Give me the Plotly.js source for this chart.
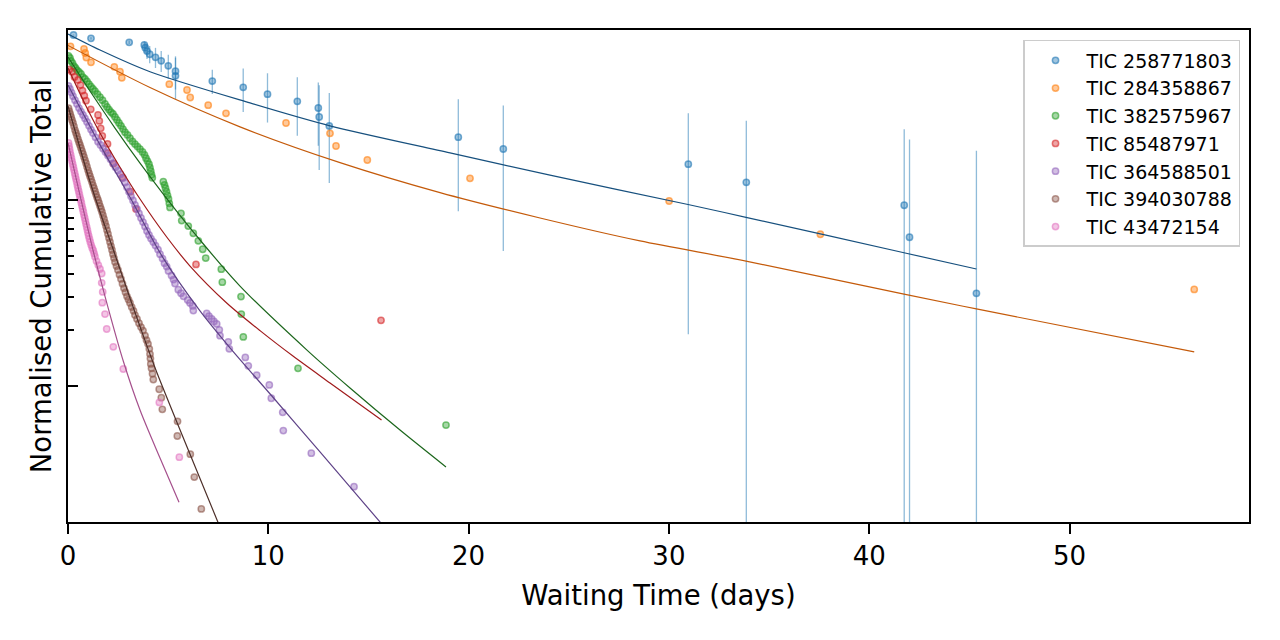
<!DOCTYPE html>
<html>
<head>
<meta charset="utf-8">
<script src="https://cdn.plot.ly/plotly-3.0.1.min.js"></script>
<style>
  body { margin: 0; background: #fff; }
  #graph { width: 1280px; height: 640px; }
</style>
</head>
<body>
<div id="graph"></div>
<script>
// waiting time (days) vs normalised cumulative total
const names = ["TIC 258771803", "TIC 284358867", "TIC 382575967", "TIC 85487971",
  "TIC 364588501", "TIC 394030788", "TIC 43472154"];

const blueX = [0.275, 1.148, 3.055, 3.809, 3.859, 3.944, 4.079, 4.368, 4.653, 5.007, 5.367, 5.367, 7.204,
  8.747, 9.960, 11.448, 12.496, 12.541, 13.045, 19.486, 21.732, 30.968, 33.864, 41.747, 42.012, 45.352];
const blueY = [0.7735, 0.7426, 0.7067, 0.684, 0.6614, 0.634, 0.6093, 0.5867, 0.5619, 0.528, 0.4939, 0.4665,
  0.4372, 0.4044, 0.3713, 0.3401, 0.3129, 0.2799, 0.2503, 0.2179, 0.1882, 0.1559, 0.1245, 0.0937, 0.063, 0.03145];
const blueErr = [0.005, 0.01, 0.015, 0.03, 0.045, 0.06, 0.065, 0.073, 0.073, 0.078, 0.1, 0.117, 0.065,
  0.107, 0.11, 0.118, 0.117, 0.135, 0.127, 0.131, 0.135, 0.137, 0.143, 0.147, 0.149, 0.153];

const orangeX = [0.125, 0.799, 0.859, 0.914, 1.148, 2.312, 2.596, 2.686, 5.057, 5.941, 6.101, 6.999, 7.888,
  10.884, 13.08, 13.38, 14.943, 20.07, 30.01, 37.56, 56.225];
const orangeY = [0.6726, 0.6503, 0.619, 0.5853, 0.5513, 0.5215, 0.491, 0.455, 0.4203, 0.3913, 0.3565, 0.324,
  0.293, 0.2598, 0.2286, 0.1953, 0.1642, 0.1309, 0.0988, 0.0654, 0.033];

const greenX = [0.025, 0.1, 0.15, 0.225, 0.3, 0.374, 0.449, 0.549, 0.649, 0.749, 0.849, 0.949, 1.049, 1.149,
  1.248, 1.348, 1.473, 1.598, 1.723, 1.847, 1.947, 2.047, 2.147, 2.247, 2.347, 2.446, 2.546, 2.646, 2.746,
  2.846, 2.971, 3.095, 3.22, 3.345, 3.47, 3.595, 3.72, 3.819, 3.894, 3.969, 4.044, 4.094, 4.134, 4.169, 4.209,
  4.758, 4.818, 4.868, 4.918, 4.968, 5.018, 5.058, 5.092, 5.642, 5.677, 6.006, 6.256, 6.506, 6.725, 6.875,
  7.654, 7.704, 8.637, 8.652, 8.752, 11.483, 18.871];
const greenY = [0.597, 0.582, 0.561, 0.546, 0.526, 0.514, 0.501, 0.489, 0.477, 0.459, 0.449, 0.435, 0.421,
  0.408, 0.396, 0.386, 0.372, 0.358, 0.345, 0.329, 0.317, 0.307, 0.2975, 0.2906, 0.28, 0.27, 0.26, 0.251,
  0.241, 0.232, 0.224, 0.215, 0.207, 0.2, 0.194, 0.188, 0.1815, 0.175, 0.168, 0.162, 0.156, 0.1493, 0.1432,
  0.1368, 0.1318, 0.1254, 0.1207, 0.1158, 0.111, 0.106, 0.1013, 0.096, 0.0912, 0.0848, 0.0775, 0.0724,
  0.0662, 0.0603, 0.0543, 0.0487, 0.0424, 0.0361, 0.0302, 0.0243, 0.0183, 0.0124, 0.00614];

const redX = [0.065, 0.2, 0.325, 0.499, 0.624, 0.724, 0.814, 0.899, 1.138, 1.498, 1.563, 1.633, 1.712,
  1.973, 1.982, 2.272, 2.721, 3.12, 3.395, 6.39, 15.627];
const redY = [0.504, 0.4905, 0.4595, 0.443, 0.416, 0.3886, 0.3648, 0.3429, 0.308, 0.287, 0.2667, 0.2431,
  0.2212, 0.2005, 0.1788, 0.1569, 0.1322, 0.1109, 0.0895, 0.045, 0.0225];

const purpleX = [0.025, 0.1, 0.175, 0.25, 0.35, 0.449, 0.549, 0.649, 0.749, 0.849, 0.949, 1.049, 1.148,
  1.248, 1.373, 1.498, 1.623, 1.747, 1.872, 1.997, 2.122, 2.247, 2.372, 2.496, 2.621, 2.746, 2.846, 2.946,
  3.046, 3.146, 3.245, 3.345, 3.445, 3.545, 3.645, 3.745, 3.845, 3.944, 4.044, 4.144, 4.259, 4.369, 4.494,
  4.594, 4.719, 4.818, 4.928, 5.018, 5.168, 5.268, 5.342, 5.507, 5.642, 5.767, 5.977, 6.091, 6.226, 6.256,
  6.925, 7.04, 7.174, 7.289, 7.424, 7.554, 7.589, 8.003, 8.053, 8.852, 9.002, 9.421, 10.05, 10.15, 10.719,
  10.749, 12.147, 14.279];
const purpleY = [0.411, 0.396, 0.379, 0.3625, 0.345, 0.329, 0.3127, 0.2995, 0.287, 0.2751, 0.2634, 0.2509,
  0.2395, 0.2295, 0.2176, 0.2062, 0.198, 0.1894, 0.1815, 0.1739, 0.166, 0.1579, 0.1502, 0.1441, 0.1377,
  0.1312, 0.1241, 0.1171, 0.1109, 0.1047, 0.0994, 0.094, 0.0895, 0.0846, 0.08, 0.0761, 0.072, 0.0681,
  0.0648, 0.062, 0.0594, 0.0568, 0.0541, 0.0511, 0.0484, 0.0457, 0.0438, 0.0415, 0.0392, 0.0373, 0.0355,
  0.0329, 0.0315, 0.0303, 0.0289, 0.0279, 0.0269, 0.0254, 0.0245, 0.0237, 0.0229, 0.0222, 0.0215, 0.02,
  0.0186, 0.0172, 0.0158, 0.0142, 0.0128, 0.0114, 0.0101, 0.00856, 0.00719, 0.00573, 0.00433, 0.00286];

const brownX = [0.025, 0.065, 0.11, 0.155, 0.2, 0.25, 0.3, 0.35, 0.399, 0.449, 0.499, 0.549, 0.599, 0.649,
  0.699, 0.749, 0.799, 0.849, 0.899, 0.949, 0.999, 1.049, 1.098, 1.148, 1.198, 1.248, 1.298, 1.348, 1.398,
  1.448, 1.498, 1.548, 1.598, 1.648, 1.698, 1.748, 1.798, 1.847, 1.897, 1.947, 1.997, 2.047, 2.097, 2.147,
  2.197, 2.247, 2.297, 2.347, 2.422, 2.496, 2.571, 2.646, 2.721, 2.796, 2.871, 2.946, 3.021, 3.096, 3.181,
  3.27, 3.345, 3.445, 3.545, 3.645, 3.745, 3.845, 3.92, 3.994, 4.059, 4.094, 4.114, 4.134, 4.169, 4.219,
  4.259, 4.554, 4.659, 4.709, 5.468, 5.458, 6.106, 6.306, 6.655];
const brownY = [0.3127, 0.3013, 0.2906, 0.28, 0.27, 0.2604, 0.2494, 0.238, 0.2296, 0.2212, 0.2126, 0.2049,
  0.198, 0.1907, 0.1837, 0.1772, 0.1707, 0.164, 0.1579, 0.1512, 0.145, 0.1394, 0.1343, 0.1296, 0.1249, 0.12,
  0.1158, 0.1116, 0.1073, 0.1034, 0.1, 0.0964, 0.0928, 0.0895, 0.0862, 0.0825, 0.079, 0.0756, 0.0724,
  0.0689, 0.0656, 0.0624, 0.0594, 0.0565, 0.0538, 0.0511, 0.0487, 0.0463, 0.0441, 0.042, 0.0396, 0.0376,
  0.0354, 0.0335, 0.0319, 0.0303, 0.0291, 0.0279, 0.0265, 0.0253, 0.024, 0.0229, 0.0217, 0.0207, 0.0198,
  0.0186, 0.0176, 0.0168, 0.0158, 0.0148, 0.014, 0.0131, 0.0124, 0.0116, 0.0108, 0.00957, 0.00862, 0.00746,
  0.00643, 0.00536, 0.00428, 0.00322, 0.00217];

const pinkX = [0.025, 0.05, 0.075, 0.1, 0.135, 0.17, 0.2, 0.235, 0.27, 0.3, 0.335, 0.37, 0.4, 0.434, 0.469,
  0.499, 0.534, 0.569, 0.599, 0.634, 0.669, 0.699, 0.734, 0.769, 0.799, 0.834, 0.869, 0.899, 0.934, 0.969,
  0.999, 1.034, 1.073, 1.113, 1.158, 1.208, 1.263, 1.308, 1.348, 1.423, 1.513, 1.598, 1.683, 1.683, 1.733,
  1.713, 1.847, 1.932, 2.262, 2.761, 4.559, 5.558];
const pinkY = [0.203, 0.1955, 0.1883, 0.1814, 0.175, 0.1681, 0.162, 0.1559, 0.1502, 0.145, 0.1394, 0.1343,
  0.1296, 0.1249, 0.12, 0.1158, 0.1116, 0.1073, 0.1034, 0.1, 0.0964, 0.0928, 0.0895, 0.0862, 0.083, 0.08,
  0.077, 0.0742, 0.0715, 0.0689, 0.0664, 0.064, 0.0617, 0.0594, 0.0572, 0.0552, 0.0535, 0.0514, 0.0495,
  0.0469, 0.0446, 0.0425, 0.0402, 0.0358, 0.032, 0.028, 0.0243, 0.0202, 0.0162, 0.0123, 0.00813, 0.00412];

// fitted curves, sampled along the drawn lines
const fitBlueX = [0, 1.598, 4.094, 9.086, 13.08, 19.072, 24.064, 30.954, 33.849, 41.737, 45.352];
const fitBlueY = [0.7831, 0.642, 0.4905, 0.3332, 0.2509, 0.1794, 0.136, 0.0946, 0.0807, 0.052, 0.0425];
const fitOrangeX = [0, 4.094, 8.587, 13.58, 18.572, 23.565, 28.557, 33.849, 41.737, 45.352, 56.225];
const fitOrangeY = [0.6798, 0.4034, 0.2478, 0.159, 0.1096, 0.08, 0.0602, 0.0469, 0.0311, 0.0259, 0.0152];
const fitGreenX = [0, 1.098, 2.346, 3.595, 4.843, 6.59, 8.587, 11.917, 14.079, 16.575, 18.871];
const fitGreenY = [0.5892, 0.3862, 0.244, 0.1579, 0.1047, 0.0609, 0.0344, 0.0156, 0.00972, 0.00577, 0.00365];
const fitRedX = [0, 0.849, 1.598, 2.596, 3.595, 4.928, 6.091, 7.923, 9.586, 11.248, 13.08, 15.652];
const fitRedY = [0.5136, 0.329, 0.2296, 0.1502, 0.1012, 0.0632, 0.0441, 0.0279, 0.0198, 0.0144, 0.01035, 0.00653];
const fitPurpleX = [0, 1.598, 3.095, 4.693, 6.59, 8.088, 10.135, 12.581, 15.8];
const fitPurpleY = [0.416, 0.198, 0.1034, 0.0499, 0.0253, 0.016, 0.00891, 0.0044, 0.00173];
const fitBrownX = [0, 0.999, 1.598, 2.197, 3.095, 4.344, 5.841, 7.588];
const fitBrownY = [0.321, 0.136, 0.0862, 0.0565, 0.0296, 0.0125, 0.00498, 0.00173];
const fitPinkX = [0, 0.599, 1.198, 1.847, 2.771, 3.595, 4.593, 5.542];
const fitPinkY = [0.203, 0.106, 0.0565, 0.0303, 0.01346, 0.0074, 0.00408, 0.00236];

const colors = ["31,119,180", "255,127,14", "44,160,44", "214,39,40", "148,103,189", "140,86,75", "227,119,194"];
const lineColors = ["#17507e", "#c45a0a", "#1c661c", "#a01b1c", "#5e4287", "#4d2f29", "#a5508c"];

const pointSets = [[blueX, blueY], [orangeX, orangeY], [greenX, greenY], [redX, redY],
  [purpleX, purpleY], [brownX, brownY], [pinkX, pinkY]];
const fitSets = [[fitBlueX, fitBlueY], [fitOrangeX, fitOrangeY], [fitGreenX, fitGreenY], [fitRedX, fitRedY],
  [fitPurpleX, fitPurpleY], [fitBrownX, fitBrownY], [fitPinkX, fitPinkY]];

const font = "DejaVu Sans, Liberation Sans, sans-serif";

let traces = [];

// error bars for the first star sit underneath its points
traces.push({
  x: blueX,
  y: blueY,
  type: "scatter",
  mode: "markers",
  marker: { size: 1, color: "rgba(0,0,0,0)" },
  error_y: { type: "data", array: blueErr, visible: true, color: "rgba(31,119,180,0.5)", thickness: 1.3, width: 0 },
  showlegend: false,
  hoverinfo: "skip",
});

pointSets.forEach(function (s, i) {
  traces.push({
    x: s[0],
    y: s[1],
    type: "scatter",
    mode: "markers",
    name: names[i],
    marker: {
      size: 6.3,
      color: "rgba(" + colors[i] + ",0.42)",
      line: { color: "rgba(" + colors[i] + ",0.6)", width: 1.5 },
    },
  });
});

fitSets.forEach(function (s, i) {
  traces.push({
    x: s[0],
    y: s[1],
    type: "scatter",
    mode: "lines",
    line: { color: lineColors[i], width: 1.2, shape: "spline", smoothing: 0.8 },
    showlegend: false,
    hoverinfo: "skip",
  });
});

const layout = {
  width: 1280,
  height: 640,
  margin: { l: 68, r: 31, t: 30, b: 118 },
  paper_bgcolor: "#fff",
  plot_bgcolor: "#fff",
  font: { family: font, color: "#000", size: 26 },
  showlegend: true,
  xaxis: {
    range: [0, 58.96],
    tickmode: "array",
    tickvals: [0, 10, 20, 30, 40, 50],
    ticks: "outside",
    ticklen: 10,
    tickwidth: 2,
    tickcolor: "#000",
    tickfont: { family: font, size: 26 },
    showgrid: false,
    zeroline: false,
    showline: true,
    mirror: true,
    linecolor: "#000",
    linewidth: 2,
    title: { text: "Waiting Time (days)", font: { family: font, size: 27.5 }, standoff: 16 },
  },
  yaxis: {
    type: "log",
    range: [-2.734, -0.0845],
    tickmode: "array",
    tickvals: [0.01, 0.1],
    ticks: "inside",
    ticklen: 10,
    tickwidth: 2,
    tickcolor: "#000",
    showticklabels: false,
    minor: {
      tickmode: "array",
      tickvals: [0.02, 0.03, 0.04, 0.05, 0.06, 0.07, 0.08, 0.09],
      ticks: "inside",
      ticklen: 6,
      tickwidth: 1.6,
      tickcolor: "#000",
      showgrid: false,
    },
    showgrid: false,
    zeroline: false,
    showline: true,
    mirror: true,
    linecolor: "#000",
    linewidth: 2,
    title: { text: "Normalised Cumulative Total", font: { family: font, size: 27.5 }, standoff: 6 },
  },
  legend: {
    x: 0.9924,
    y: 0.9797,
    xanchor: "right",
    yanchor: "top",
    bgcolor: "rgba(255,255,255,0.8)",
    bordercolor: "#cccccc",
    borderwidth: 1.5,
    itemwidth: 52,
    font: { family: font, size: 19, color: "#000" },
  },
};

Plotly.newPlot("graph", traces, layout, { staticPlot: true });
</script>
</body>
</html>
